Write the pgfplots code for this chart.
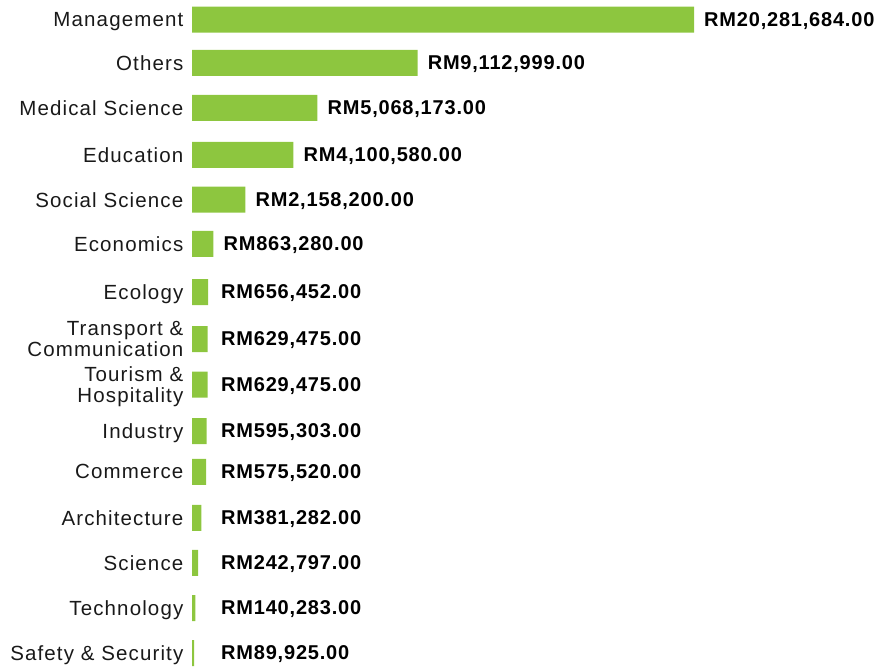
\documentclass[border=0pt]{standalone}
\usepackage{pgfplots}
\usepackage{pgfplotstable}
\pgfplotsset{compat=1.18}
\usepackage{fontspec}
\setmainfont{Liberation Sans}
\newfontfamily\lblfont[LetterSpace=5.5]{Liberation Sans}
\newfontfamily\valfont[LetterSpace=4]{Liberation Sans}
\definecolor{barg}{RGB}{141,198,63}
\definecolor{txt}{RGB}{25,25,25}

\pgfplotstableread{
y      v         lx        label
19.7   20281684  20281684  {RM20,281,684.00}
62.8   9112999   9112999   {RM9,112,999.00}
107.8  5068173   5068173   {RM5,068,173.00}
154.8  4100580   4100580   {RM4,100,580.00}
199.7  2158200   2158200   {RM2,158,200.00}
243.8  863280    863280    {RM863,280.00}
292.0  656452    767600    {RM656,452.00}
339.0  629475    767600    {RM629,475.00}
384.5  629475    767600    {RM629,475.00}
431.0  595303    767600    {RM595,303.00}
471.8  575520    767600    {RM575,520.00}
517.8  381282    767600    {RM381,282.00}
562.8  242797    767600    {RM242,797.00}
608.0  140283    767600    {RM140,283.00}
653.0  89925     767600    {RM89,925.00}
}\datatable

\begin{document}
\begin{tikzpicture}
\useasboundingbox (0pt,0pt) rectangle (885pt,-666pt);
\begin{axis}[
  at={(192pt,-666pt)}, anchor=south west,
  scale only axis,
  width=502pt, height=666pt,
  xmin=0, xmax=20281684,
  ymin=0, ymax=666,
  y dir=reverse,
  clip=false,
  axis line style={draw=none},
  tick style={draw=none},
  major tick length=0pt,
  xtick=\empty,
  ytick={19.7,62.8,107.8,154.8,199.7,243.8,292.0,339.0,384.5,431.0,471.8,517.8,562.8,608.0,653.0},
  yticklabels={Management,Others,Medical Science,Education,Social Science,Economics,Ecology,{Transport \&\\Communication},{Tourism \&\\Hospitality},Industry,Commerce,Architecture,Science,Technology,{Safety \& Security}},
  yticklabel style={anchor=east, inner sep=0pt, xshift=-8.5pt, align=right, text depth=0pt,
    font=\lblfont\fontsize{20.5}{20.7}\selectfont, text=txt},
]
\addplot[xbar, bar width=26pt, fill=barg, draw=none] table[x=v, y=y] {\datatable};
\addplot[draw=none, mark=none, nodes near coords, point meta=explicit symbolic,
  nodes near coords style={anchor=west, inner sep=0pt, xshift=10pt, text depth=0pt,
    font=\valfont\bfseries\fontsize{20}{20.7}\selectfont, text=black}]
  table[x=lx, y=y, meta=label] {\datatable};
\end{axis}
\end{tikzpicture}
\end{document}
